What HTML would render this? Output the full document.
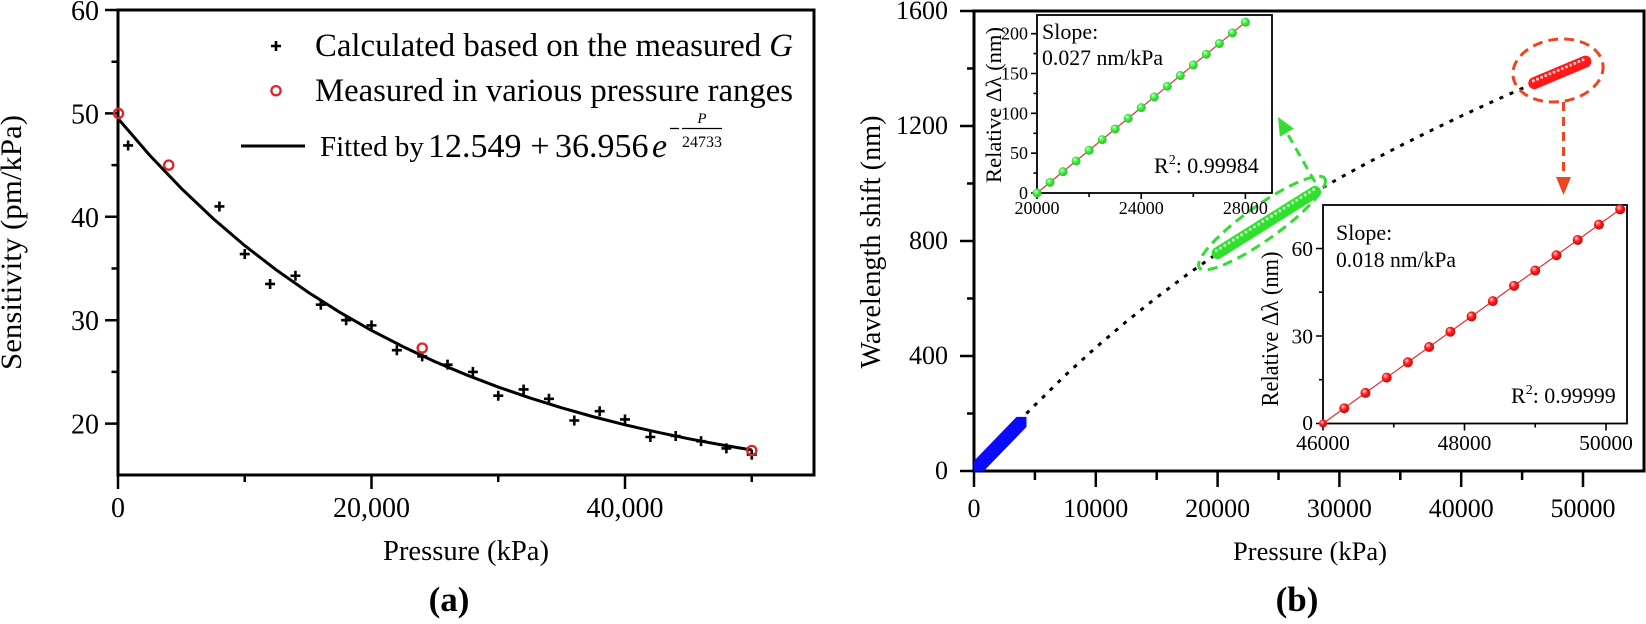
<!DOCTYPE html>
<html><head><meta charset="utf-8"><style>html,body{margin:0;padding:0;background:#fff;}svg{display:block;}</style></head>
<body>
<svg width="1646" height="624" viewBox="0 0 1646 624" xmlns="http://www.w3.org/2000/svg" font-family="'Liberation Serif', 'Times New Roman', serif">
<defs>
<radialGradient id="gG" cx="0.45" cy="0.45" r="0.6" fx="0.35" fy="0.3"><stop offset="0" stop-color="#e0ffe0"/><stop offset="0.45" stop-color="#44ee44"/><stop offset="1" stop-color="#22bb22"/></radialGradient>
<radialGradient id="gR" cx="0.45" cy="0.45" r="0.6" fx="0.35" fy="0.3"><stop offset="0" stop-color="#ffd8d8"/><stop offset="0.45" stop-color="#ff2222"/><stop offset="1" stop-color="#cc0000"/></radialGradient>
<clipPath id="cR"><rect x="974" y="11" width="670" height="460"/></clipPath>
</defs>
<rect width="1646" height="624" fill="#fff"/>

<!-- ============ LEFT PANEL ============ -->
<rect x="118" y="10" width="696" height="465" fill="none" stroke="#000" stroke-width="3"/>
<path d="M105 10H118M105 113.4H118M105 216.8H118M105 320.2H118M105 423.6H118" stroke="#000" stroke-width="2.5"/>
<path d="M111.5 61.7H118M111.5 165.1H118M111.5 268.5H118M111.5 371.9H118" stroke="#000" stroke-width="2.5"/>
<path d="M118 475V489M371.5 475V489M625 475V489" stroke="#000" stroke-width="2.5"/>
<path d="M244.75 475V482M498.25 475V482M751.75 475V482" stroke="#000" stroke-width="2.5"/>
<g font-size="28" text-anchor="end" fill="#000">
<text x="99" y="20">60</text><text x="99" y="123.4">50</text><text x="99" y="226.8">40</text><text x="99" y="330.2">30</text><text x="99" y="433.6">20</text>
</g>
<g font-size="28" text-anchor="middle" fill="#000">
<text x="118" y="517">0</text><text x="371.5" y="517">20,000</text><text x="625" y="517">40,000</text>
</g>
<text x="466" y="560" font-size="28" text-anchor="middle" textLength="166" lengthAdjust="spacingAndGlyphs">Pressure (kPa)</text>
<text transform="translate(21,242.5) rotate(-90)" font-size="30" text-anchor="middle" textLength="255" lengthAdjust="spacingAndGlyphs">Sensitivity (pm/kPa)</text>
<text x="449" y="611" font-size="35" font-weight="bold" text-anchor="middle">(a)</text>

<!-- fitted curve -->
<polyline fill="none" stroke="#000" stroke-width="3" points="118,118.52 149.69,155.26 181.38,188.46 213.06,218.47 244.75,245.6 276.44,270.1 308.13,292.27 339.81,312.3 371.5,330.41 403.19,346.77 434.88,361.57 466.56,374.94 498.25,387.03 529.94,397.95 561.63,407.82 593.31,416.74 625,424.81 656.69,432.1 688.38,438.69 720.06,444.64 751.75,450.03"/>
<!-- crosses -->
<g stroke="#000" stroke-width="2.6">
<path d="M123.1 145.45h10M128.1 140.45v10"/>
<path d="M214.4 206.46h10M219.4 201.46v10"/>
<path d="M239.75 254.02h10M244.75 249.02v10"/>
<path d="M265.1 283.98h10M270.1 278.98v10"/>
<path d="M290.45 275.74h10M295.45 270.74v10"/>
<path d="M315.8 304.69h10M320.8 299.69v10"/>
<path d="M341.15 320.2h10M346.15 315.2v10"/>
<path d="M366.5 325.37h10M371.5 320.37v10"/>
<path d="M391.85 350.19h10M396.85 345.19v10"/>
<path d="M417.2 356.39h10M422.2 351.39v10"/>
<path d="M442.55 364.66h10M447.55 359.66v10"/>
<path d="M467.9 371.9h10M472.9 366.9v10"/>
<path d="M493.25 395.7h10M498.25 390.7v10"/>
<path d="M518.6 389.48h10M523.6 384.48v10"/>
<path d="M543.95 398.78h10M548.95 393.78v10"/>
<path d="M569.3 420.5h10M574.3 415.5v10"/>
<path d="M594.65 411.19h10M599.65 406.19v10"/>
<path d="M620 419.46h10M625 414.46v10"/>
<path d="M645.35 437h10M650.35 432v10"/>
<path d="M670.7 436h10M675.7 431v10"/>
<path d="M696.05 441.18h10M701.05 436.18v10"/>
<path d="M721.4 448.4h10M726.4 443.4v10"/>
<path d="M746.75 454.6h10M751.75 449.6v10"/>
</g>
<!-- red circles -->
<g fill="none" stroke="#e02424" stroke-width="2.3">
<circle cx="118.5" cy="113.4" r="4.6"/><circle cx="168.7" cy="165.1" r="4.6"/><circle cx="422.2" cy="348.1" r="4.6"/><circle cx="751.75" cy="450.5" r="4.6"/>
</g>
<!-- legend -->
<path d="M271 46h10M276 41v10" stroke="#000" stroke-width="2.6"/>
<circle cx="276" cy="90.7" r="4.6" fill="none" stroke="#e02424" stroke-width="2.3"/>
<path d="M241 146H305" stroke="#000" stroke-width="3"/>
<text x="315" y="56" font-size="32.5" textLength="478" lengthAdjust="spacingAndGlyphs">Calculated based on the measured <tspan font-style="italic">G</tspan></text>
<text x="315" y="101" font-size="32.5" textLength="478" lengthAdjust="spacingAndGlyphs">Measured in various pressure ranges</text>
<text x="320" y="156" font-size="29">Fitted by</text>
<text x="428" y="157" font-size="34">12.549</text>
<text x="540" y="157" font-size="34" text-anchor="middle">+</text>
<text x="555" y="157" font-size="34">36.956</text>
<text x="652" y="157" font-size="34" font-style="italic">e</text>
<path d="M670 128.5h9" stroke="#000" stroke-width="1.3"/>
<path d="M682 128.5h40" stroke="#000" stroke-width="1.3"/>
<text x="702" y="123" font-size="15" font-style="italic" text-anchor="middle">P</text>
<text x="702" y="147" font-size="16" text-anchor="middle">24733</text>

<!-- ============ RIGHT PANEL ============ -->
<rect x="974" y="11" width="670" height="460" fill="none" stroke="#000" stroke-width="3"/>
<path d="M960 471H974M960 356H974M960 241H974M960 126H974M960 11H974" stroke="#000" stroke-width="2.5"/>
<path d="M967 413.5H974M967 298.5H974M967 183.5H974M967 68.5H974" stroke="#000" stroke-width="2.5"/>
<path d="M974 471V487M1095.8 471V487M1217.6 471V487M1339.4 471V487M1461.2 471V487M1583 471V487" stroke="#000" stroke-width="2.5"/>
<path d="M1034.9 471V480M1156.7 471V480M1278.5 471V480M1400.3 471V480M1522.1 471V480" stroke="#000" stroke-width="2.5"/>
<g font-size="26" text-anchor="end">
<text x="948" y="479">0</text><text x="948" y="364">400</text><text x="948" y="249">800</text><text x="948" y="134">1200</text><text x="948" y="19">1600</text>
</g>
<g font-size="26" text-anchor="middle">
<text x="974" y="517">0</text><text x="1095.8" y="517">10000</text><text x="1217.6" y="517">20000</text><text x="1339.4" y="517">30000</text><text x="1461.2" y="517">40000</text><text x="1583" y="517">50000</text>
</g>
<text x="1310" y="560" font-size="26.5" text-anchor="middle" textLength="154" lengthAdjust="spacingAndGlyphs">Pressure (kPa)</text>
<text transform="translate(880,242) rotate(-90)" font-size="29" text-anchor="middle" textLength="253" lengthAdjust="spacingAndGlyphs">Wavelength shift (nm)</text>
<text x="1297" y="611" font-size="35" font-weight="bold" text-anchor="middle">(b)</text>

<g clip-path="url(#cR)">
<polygon points="969,476 979,476 1026.5,426.9 1026.5,416.9 1016.5,416.9 969,466" fill="#0a0aff"/>
</g>
<polyline fill="none" stroke="#000" stroke-width="3" stroke-dasharray="4 7" points="1026.37,413.56 1065.35,375.2 1095.8,347.52 1126.25,321.64 1156.7,297.41 1187.15,274.61 1217.6,253.13 1248.05,232.86 1278.5,213.66 1308.95,195.43 1339.4,178.12 1369.85,161.59 1400.3,145.78 1430.75,130.63 1461.2,116.05 1491.65,102.02 1522.1,88.45 1534.28,83.16"/>
<!-- green beads -->
<line x1="1217.6" y1="253.1" x2="1315" y2="191.9" stroke="#2fe02f" stroke-width="12" stroke-linecap="round"/>
<line x1="1216.3" y1="250.8" x2="1313.7" y2="189.6" stroke="#c8ffc8" stroke-width="3" stroke-linecap="round" stroke-dasharray="0 5"/>
<!-- red beads -->
<line x1="1534.3" y1="83.2" x2="1585.4" y2="61.6" stroke="#ff1a1a" stroke-width="12" stroke-linecap="round"/>
<line x1="1533.3" y1="80.9" x2="1584.4" y2="59.3" stroke="#ffc8c8" stroke-width="3" stroke-linecap="round" stroke-dasharray="0 4.5"/>
<!-- ellipses & arrows -->
<ellipse cx="1262" cy="223" rx="77" ry="17" transform="rotate(-35.5 1262 223)" fill="none" stroke="#33dd33" stroke-width="3" stroke-dasharray="10 6"/>
<line x1="1315" y1="182" x2="1287" y2="133" stroke="#33dd33" stroke-width="3" stroke-dasharray="9 6"/>
<polygon points="1278,117 1293.9,128.6 1279.9,136.6" fill="#33dd33"/>
<ellipse cx="1558" cy="70.5" rx="45.3" ry="31.2" transform="rotate(-8 1558 70.5)" fill="none" stroke="#ee4422" stroke-width="3" stroke-dasharray="10 6"/>
<line x1="1563.5" y1="102" x2="1563.5" y2="177" stroke="#ee4422" stroke-width="3" stroke-dasharray="9 6"/>
<polygon points="1556,177 1571,177 1563.5,195" fill="#ee4422"/>

<!-- ============ UPPER INSET ============ -->
<rect x="1037" y="15" width="235" height="178" fill="#fff" stroke="#000" stroke-width="1.8"/>
<path d="M1031 193H1037M1031 153.2H1037M1031 113.3H1037M1031 73.5H1037M1031 33.7H1037" stroke="#000" stroke-width="1.6"/>
<path d="M1033.5 173.1H1037M1033.5 133.3H1037M1033.5 93.4H1037M1033.5 53.6H1037" stroke="#000" stroke-width="1.6"/>
<path d="M1037 193V199M1141.2 193V199M1245.4 193V199M1089.1 193V197M1193.3 193V197" stroke="#000" stroke-width="1.6"/>
<g font-size="18" text-anchor="end">
<text x="1028" y="199">0</text><text x="1028" y="159.2">50</text><text x="1028" y="119.3">100</text><text x="1028" y="79.5">150</text><text x="1028" y="39.7">200</text>
</g>
<g font-size="18" text-anchor="middle">
<text x="1037" y="214">20000</text><text x="1141.2" y="214">24000</text><text x="1245.4" y="214">28000</text>
</g>
<text transform="translate(1001,105) rotate(-90)" font-size="22" text-anchor="middle" textLength="156" lengthAdjust="spacingAndGlyphs">Relative Δλ (nm)</text>
<line x1="1037" y1="193" x2="1245.4" y2="22.18" stroke="#e03030" stroke-width="1.2"/>
<g fill="url(#gG)">
<circle cx="1037" cy="193" r="4.5"/><circle cx="1050.03" cy="182.32" r="4.5"/><circle cx="1063.05" cy="171.65" r="4.5"/><circle cx="1076.08" cy="160.97" r="4.5"/><circle cx="1089.1" cy="150.3" r="4.5"/><circle cx="1102.13" cy="139.62" r="4.5"/><circle cx="1115.15" cy="128.94" r="4.5"/><circle cx="1128.18" cy="118.27" r="4.5"/><circle cx="1141.2" cy="107.59" r="4.5"/><circle cx="1154.23" cy="96.92" r="4.5"/><circle cx="1167.25" cy="86.24" r="4.5"/><circle cx="1180.28" cy="75.56" r="4.5"/><circle cx="1193.3" cy="64.89" r="4.5"/><circle cx="1206.33" cy="54.21" r="4.5"/><circle cx="1219.35" cy="43.54" r="4.5"/><circle cx="1232.38" cy="32.86" r="4.5"/><circle cx="1245.4" cy="22.18" r="4.5"/>
</g>
<text x="1042" y="39" font-size="22">Slope:</text>
<text x="1042" y="65" font-size="22" textLength="121" lengthAdjust="spacingAndGlyphs">0.027 nm/kPa</text>
<text x="1154" y="173" font-size="22">R<tspan dy="-9" font-size="14">2</tspan><tspan dy="9">: 0.99984</tspan></text>

<!-- ============ LOWER INSET ============ -->
<rect x="1323" y="205" width="304" height="218.5" fill="#fff" stroke="#000" stroke-width="1.8"/>
<path d="M1316 423.5H1323M1316 336H1323M1316 248.5H1323M1319 379.7H1323M1319 292.2H1323" stroke="#000" stroke-width="1.6"/>
<path d="M1323 423.5V430.5M1464.5 423.5V430.5M1606 423.5V430.5M1393.75 423.5V427.5M1535.25 423.5V427.5" stroke="#000" stroke-width="1.6"/>
<g font-size="21.5" text-anchor="end">
<text x="1313" y="430">0</text><text x="1313" y="343.5">30</text><text x="1313" y="256">60</text>
</g>
<g font-size="21.5" text-anchor="middle">
<text x="1323" y="450">46000</text><text x="1464.5" y="450">48000</text><text x="1606" y="450">50000</text>
</g>
<text transform="translate(1278,329) rotate(-90)" font-size="24" text-anchor="middle" textLength="155" lengthAdjust="spacingAndGlyphs">Relative Δλ (nm)</text>
<line x1="1323" y1="423.5" x2="1620.15" y2="209.34" stroke="#e03030" stroke-width="1.2"/>
<g fill="url(#gR)">
<circle cx="1323" cy="423.5" r="4"/><circle cx="1344.23" cy="408.2" r="5"/><circle cx="1365.45" cy="392.91" r="5"/><circle cx="1386.68" cy="377.61" r="5"/><circle cx="1407.9" cy="362.31" r="5"/><circle cx="1429.13" cy="347.02" r="5"/><circle cx="1450.35" cy="331.72" r="5"/><circle cx="1471.58" cy="316.42" r="5"/><circle cx="1492.8" cy="301.12" r="5"/><circle cx="1514.03" cy="285.83" r="5"/><circle cx="1535.25" cy="270.53" r="5"/><circle cx="1556.48" cy="255.23" r="5"/><circle cx="1577.7" cy="239.94" r="5"/><circle cx="1598.93" cy="224.64" r="5"/><circle cx="1620.15" cy="209.34" r="5"/>
</g>
<text x="1336" y="240" font-size="22">Slope:</text>
<text x="1336" y="267" font-size="22" textLength="120" lengthAdjust="spacingAndGlyphs">0.018 nm/kPa</text>
<text x="1511" y="403" font-size="22">R<tspan dy="-9" font-size="14">2</tspan><tspan dy="9">: 0.99999</tspan></text>
</svg>
</body></html>
